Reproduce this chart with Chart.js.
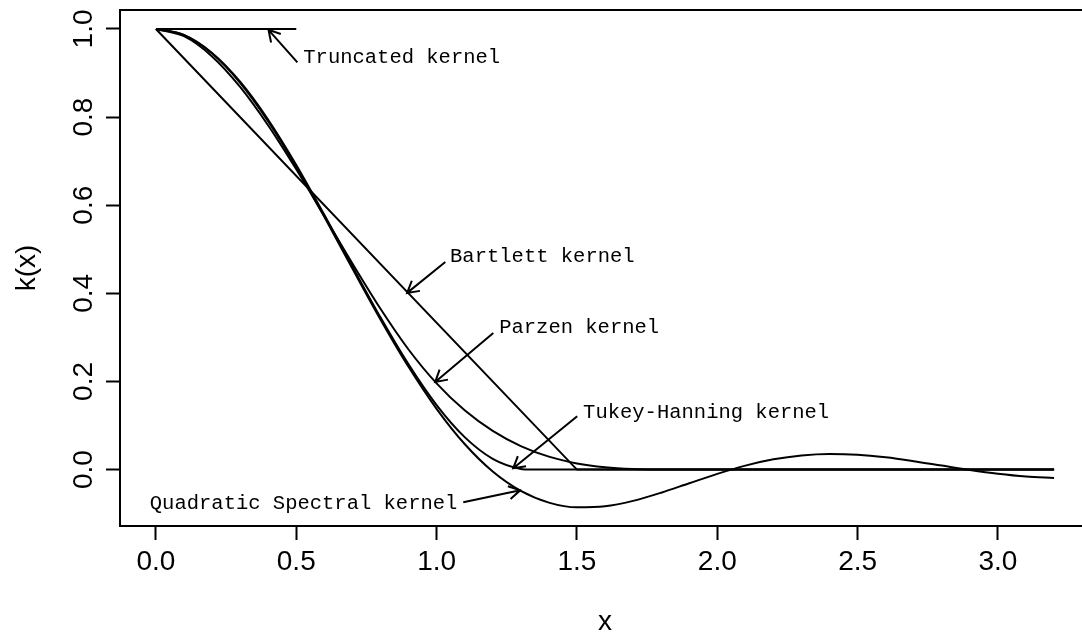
<!DOCTYPE html>
<html>
<head>
<meta charset="utf-8">
<script src="https://cdn.jsdelivr.net/npm/chart.js@4"></script>
<style>
  html, body { margin: 0; padding: 0; overflow: hidden; background: #fff; }
  #wrap { width: 1100px; height: 637px; }
</style>
</head>
<body>
<div id="wrap"><canvas id="kernelChart"></canvas></div>
<script>
// kernel curves
const truncX = [0, 0.5];
const truncY = [1, 1];

const bartlettX = [0, 1.5, 3.2];
const bartlettY = [1, 0, 0];

const parzenX = [0, 0.1, 0.2, 0.3, 0.4, 0.5, 0.6, 0.7, 0.8, 0.9, 1.0, 1.1, 1.2, 1.3, 1.4, 1.5, 1.6, 1.7, 1.8, 1.854, 3.2];
const parzenY = [1, 0.9835, 0.9377, 0.8684, 0.781, 0.6814, 0.5751, 0.4677, 0.365, 0.2726, 0.1956, 0.1346, 0.0879, 0.0534, 0.0294, 0.014, 0.0052, 0.0012, 0.0001, 0, 0];

const tukeyX = [0, 0.1, 0.2, 0.3, 0.4, 0.5, 0.6, 0.7, 0.8, 0.9, 1.0, 1.1, 1.2, 1.3, 1.333, 3.2];
const tukeyY = [1, 0.9862, 0.9455, 0.8802, 0.7939, 0.6913, 0.5782, 0.4608, 0.3455, 0.2388, 0.1464, 0.0737, 0.0245, 0.0015, 0, 0];

const qsX = [0, 0.1, 0.2, 0.3, 0.4, 0.5, 0.6, 0.7, 0.8, 0.9, 1.0, 1.1, 1.2, 1.3, 1.4, 1.5, 1.6,
             1.7, 1.8, 1.9, 2.0, 2.1, 2.2, 2.3, 2.4, 2.5, 2.6, 2.7, 2.8, 2.9, 3.0, 3.1, 3.2];
const qsY = [1, 0.9859, 0.9443, 0.8778, 0.7903, 0.6869, 0.5735, 0.4562, 0.3409, 0.2333, 0.1379, 0.058, -0.0044,
             -0.0484, -0.0749, -0.0857, -0.0833, -0.071, -0.0525, -0.031, -0.0097, 0.009, 0.0233, 0.0322, 0.0356,
             0.0338, 0.0279, 0.0192, 0.0092, -0.0007, -0.0092, -0.0155, -0.0189];

const xTicks = [0, 0.5, 1.0, 1.5, 2.0, 2.5, 3.0];
const yTicks = [0, 0.2, 0.4, 0.6, 0.8, 1.0];

// annotations: label, text anchor, alignment, arrow tail -> arrow tip
const noteText  = ['Truncated kernel', 'Bartlett kernel', 'Parzen kernel', 'Tukey-Hanning kernel', 'Quadratic Spectral kernel'];
const noteAt    = [[0.525, 0.935], [1.048, 0.483], [1.223, 0.323], [1.522, 0.13], [1.074, -0.0766]];
const noteAlign = ['left', 'left', 'left', 'left', 'right'];
const arrowFrom = [[0.504, 0.924], [1.031, 0.471], [1.202, 0.31], [1.501, 0.121], [1.095, -0.074]];
const arrowTo   = [[0.401, 0.998], [0.895, 0.401], [0.995, 0.199], [1.273, 0.003], [1.298, -0.047]];

const SANS = '"Liberation Sans", Arial, Helvetica, sans-serif';
const MONO = '"Liberation Mono", "Courier New", monospace';

const pts = (xs, ys) => xs.map((x, i) => ({ x: x, y: ys[i] }));

function curve(xs, ys, smooth) {
  return {
    data: pts(xs, ys),
    borderColor: '#000',
    borderWidth: 2,
    pointRadius: 0,
    fill: false,
    tension: smooth ? 0.4 : 0,
    cubicInterpolationMode: smooth ? 'monotone' : 'default'
  };
}

const extras = {
  id: 'extras',
  afterDraw(chart) {
    const ctx = chart.ctx;
    const a = chart.chartArea;
    const xs = chart.scales.x, ys = chart.scales.y;
    ctx.save();
    // box
    ctx.strokeStyle = '#000';
    ctx.lineWidth = 2;
    ctx.strokeRect(a.left, a.top, a.right - a.left, a.bottom - a.top);

    // vertical y tick labels
    ctx.fillStyle = '#000';
    ctx.font = '28px ' + SANS;
    ctx.textAlign = 'center';
    ctx.textBaseline = 'middle';
    yTicks.forEach(v => {
      ctx.save();
      ctx.translate(84, ys.getPixelForValue(v));
      ctx.rotate(-Math.PI / 2);
      ctx.fillText(v.toFixed(1), 0, 0);
      ctx.restore();
    });

    // labels and arrows
    ctx.font = '20.5px ' + MONO;
    ctx.textBaseline = 'middle';
    noteText.forEach((t, i) => {
      ctx.textAlign = noteAlign[i];
      ctx.fillText(t, xs.getPixelForValue(noteAt[i][0]), ys.getPixelForValue(noteAt[i][1]));
      const x0 = xs.getPixelForValue(arrowFrom[i][0]), y0 = ys.getPixelForValue(arrowFrom[i][1]);
      const x1 = xs.getPixelForValue(arrowTo[i][0]), y1 = ys.getPixelForValue(arrowTo[i][1]);
      const ang = Math.atan2(y1 - y0, x1 - x0);
      const len = 13, spread = Math.PI / 6;
      ctx.beginPath();
      ctx.moveTo(x0, y0);
      ctx.lineTo(x1, y1);
      ctx.moveTo(x1 - len * Math.cos(ang - spread), y1 - len * Math.sin(ang - spread));
      ctx.lineTo(x1, y1);
      ctx.lineTo(x1 - len * Math.cos(ang + spread), y1 - len * Math.sin(ang + spread));
      ctx.stroke();
    });
    ctx.restore();
  }
};

const ctx = document.getElementById('kernelChart').getContext('2d');

const chart = new Chart(ctx, {
  type: 'line',
  data: {
    datasets: [
      curve(truncX, truncY, false),
      curve(bartlettX, bartlettY, false),
      curve(parzenX, parzenY, true),
      curve(tukeyX, tukeyY, true),
      curve(qsX, qsY, true)
    ]
  },
  options: {
    responsive: true,
    maintainAspectRatio: false,
    animation: false,
    layout: { padding: { top: 10, right: 10, left: 0, bottom: 0 } },
    plugins: {
      legend: { display: false },
      tooltip: { enabled: false }
    },
    scales: {
      x: {
        type: 'linear',
        min: -0.128,
        max: 3.328,
        afterBuildTicks: s => { s.ticks = xTicks.map(v => ({ value: v })); },
        afterFit: s => { s.height = 111; },
        grid: { drawOnChartArea: false, tickLength: 14, tickWidth: 2, tickColor: '#000', color: '#000' },
        border: { color: '#000', width: 2 },
        ticks: {
          color: '#000',
          padding: 5,
          maxRotation: 0,
          autoSkip: false,
          font: { family: SANS, size: 28, lineHeight: 1.2 },
          callback: v => Number(v).toFixed(1)
        },
        title: {
          display: true,
          text: 'x',
          color: '#000',
          padding: 0,
          font: { family: SANS, size: 28, lineHeight: 1.03 }
        }
      },
      y: {
        min: -0.128,
        max: 1.043,
        afterBuildTicks: s => { s.ticks = yTicks.map(v => ({ value: v })); },
        afterFit: s => { s.width = 120; },
        grid: { drawOnChartArea: false, tickLength: 14, tickWidth: 2, tickColor: '#000', color: '#000' },
        border: { color: '#000', width: 2 },
        ticks: { display: false },
        title: {
          display: true,
          text: 'k(x)',
          color: '#000',
          padding: { top: 10.2, bottom: 0 },
          font: { family: SANS, size: 28, lineHeight: 1.2 }
        }
      }
    }
  },
  plugins: [extras]
});
</script>
</body>
</html>
